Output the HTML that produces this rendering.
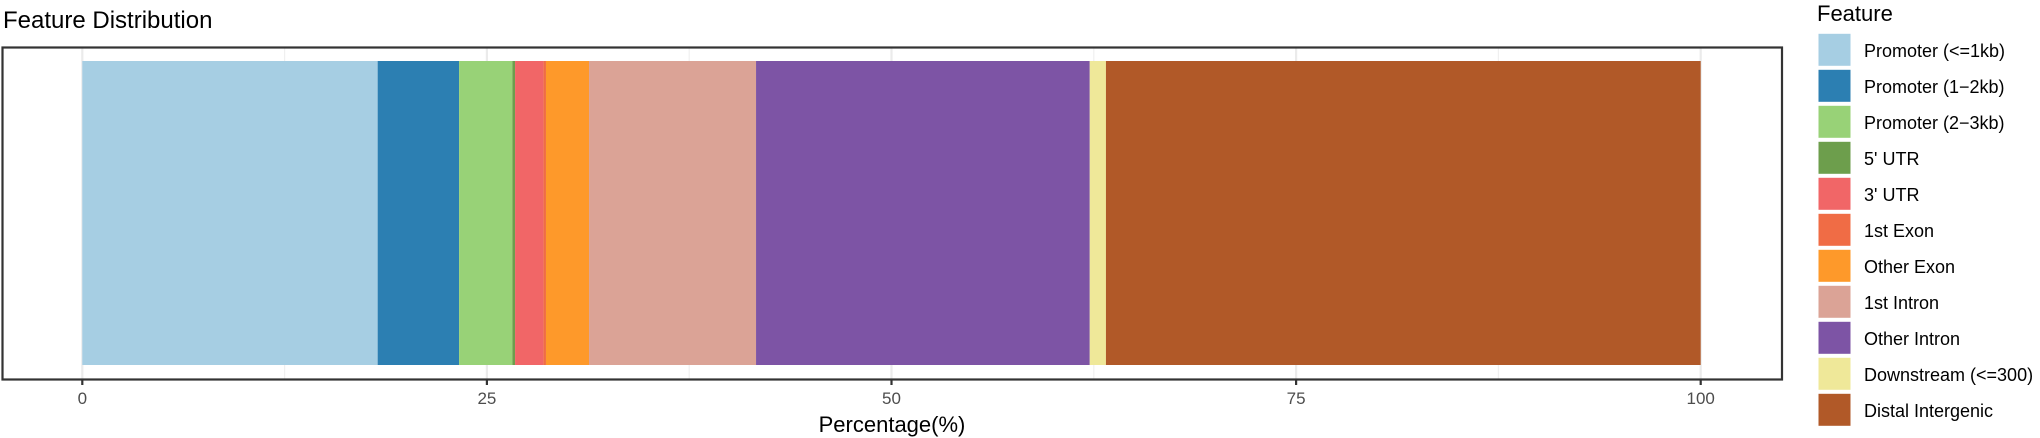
<!DOCTYPE html>
<html><head><meta charset="utf-8"><style>
html,body{margin:0;padding:0;background:#fff}
svg{display:block;font-family:"Liberation Sans",Arial,sans-serif}
</style></head><body>
<svg id="chart" width="2040" height="438" viewBox="0 0 2040 438" xmlns="http://www.w3.org/2000/svg">
<text x="3" y="28" font-size="24" fill="#000">Feature Distribution</text>
<g id="grid"></g>
<g id="bars"></g>
<rect x="2.5" y="47.5" width="1779.5" height="332" fill="none" stroke="#333" stroke-width="2.2"/>
<g id="xaxis"></g>
<text x="892" y="432" font-size="22" text-anchor="middle" fill="#000">Percentage(%)</text>
<text x="1817" y="21" font-size="22" fill="#000">Feature</text>
<g id="legend"></g>
</svg>
<script>
const categories = ["Promoter (<=1kb)","Promoter (1\u22122kb)","Promoter (2\u22123kb)","5' UTR","3' UTR","1st Exon","Other Exon","1st Intron","Other Intron","Downstream (<=300)","Distal Intergenic"];
const values = [18.25,5.03,3.29,0.17,1.75,0.16,2.66,10.32,20.62,1.00,36.75];
const colors = ["#A6CEE3","#2C7FB2","#98D277","#6D9E4C","#F16667","#F06C45","#FE992A","#DBA396","#7D54A5","#EFE899","#B15928"];
const tickValues = [0,25,50,75,100];
const tickLabels = ["0","25","50","75","100"];
const minorTicks = [12.5,37.5,62.5,87.5];

const NS="http://www.w3.org/2000/svg";
const x0=82.3, x1=1700.7;
function xs(v){return x0+(v/100)*(x1-x0);}
function mk(tag,attrs,parent){const e=document.createElementNS(NS,tag);for(const k in attrs)e.setAttribute(k,attrs[k]);parent.appendChild(e);return e;}
const grid=document.getElementById('grid'),bars=document.getElementById('bars'),xa=document.getElementById('xaxis'),lg=document.getElementById('legend');

minorTicks.forEach(t=>{const l=mk('line',{x1:xs(t),x2:xs(t),y1:48,y2:379,stroke:'#f0f0f0','stroke-width':1.2},grid);

});
tickValues.forEach(t=>{const l=mk('line',{x1:xs(t),x2:xs(t),y1:48,y2:379,stroke:'#ebebeb','stroke-width':2.2},grid);

});

let cum=0;
values.forEach((v,i)=>{const r=mk('rect',{x:xs(cum),y:61,width:Math.max(0,xs(cum+v)-xs(cum)),height:304,fill:colors[i]},bars);


cum+=v;});

tickValues.forEach((t,i)=>{const l=mk('line',{x1:xs(t),x2:xs(t),y1:379,y2:385,stroke:'#333','stroke-width':2.2},xa);


const tx=mk('text',{x:xs(t),y:404,'font-size':17,'text-anchor':'middle',fill:'#4d4d4d'},xa);
tx.textContent=tickLabels[i];

});

categories.forEach((c,i)=>{const y=33.3+36*i;
const r=mk('rect',{x:1818,y:y,width:33,height:33,fill:colors[i],stroke:'#fff','stroke-width':1},lg);


const t=mk('text',{x:1864,y:y+23.5,'font-size':18,fill:'#000'},lg);
t.textContent=c;

});
</script>
</body></html>
